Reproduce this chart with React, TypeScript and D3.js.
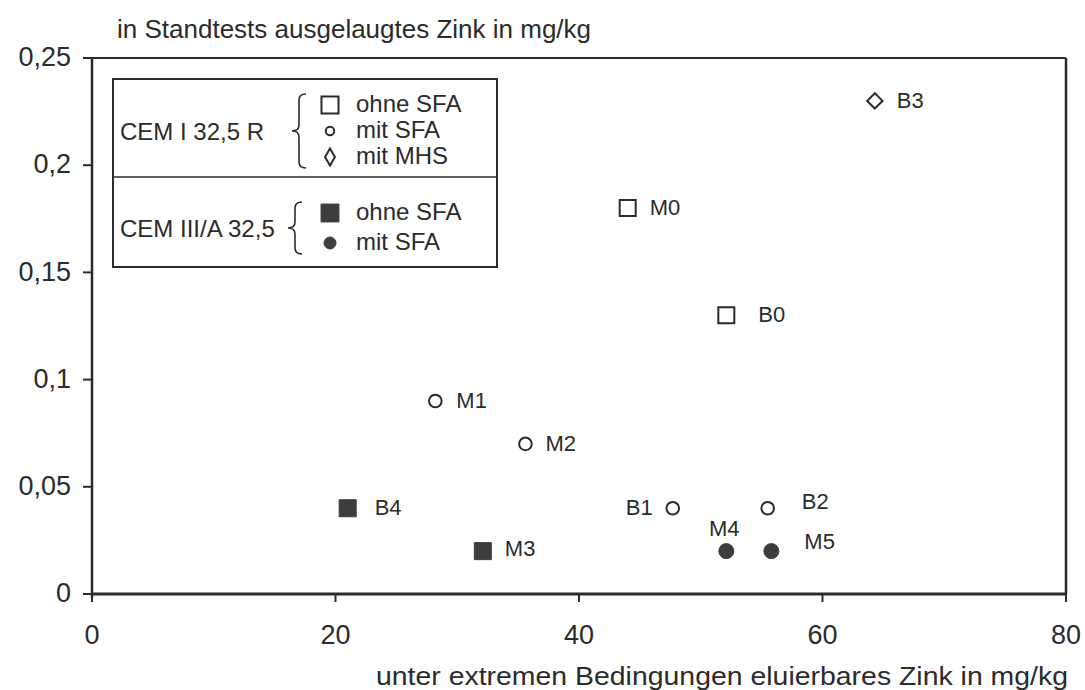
import React from "react";
import * as d3 from "d3";

// sample names, x = eluierbares Zink (mg/kg), y = ausgelaugtes Zink (mg/kg)
const sampleNames = ["B3", "M0", "B0", "M1", "M2", "B4", "M3", "B1", "B2", "M4", "M5"];
const xValues = [64.3, 44.0, 52.1, 28.2, 35.6, 21.0, 32.1, 47.7, 55.5, 52.1, 55.8];
const yValues = [0.23, 0.18, 0.13, 0.09, 0.07, 0.04, 0.02, 0.04, 0.04, 0.02, 0.02];
const sampleKinds = [
  "cem1-mhs",
  "cem1-ohne",
  "cem1-ohne",
  "cem1-mit",
  "cem1-mit",
  "cem3-ohne",
  "cem3-ohne",
  "cem1-mit",
  "cem1-mit",
  "cem3-mit",
  "cem3-mit"
];

const xTicks = [0, 20, 40, 60, 80];
const yTicks = [0, 0.05, 0.1, 0.15, 0.2, 0.25];

const yTitle = "in Standtests ausgelaugtes Zink in mg/kg";
const xTitle = "unter extremen Bedingungen eluierbares Zink in mg/kg";

const WIDTH = 1085;
const HEIGHT = 690;
const margin = { left: 92, right: 19, top: 58, bottom: 96 };
const INK = "#2b2b2b";
const FONT = "'Liberation Sans', Arial, sans-serif";

// where each point label sits relative to its marker
const labelPlace: Record<string, [number, number, string]> = {
  B3: [22, 0, "start"],
  M0: [22, 0, "start"],
  B0: [32, 0, "start"],
  M1: [21, 0, "start"],
  M2: [20, 0, "start"],
  B4: [27, 0, "start"],
  M3: [22, -2, "start"],
  B1: [-20, 0, "end"],
  B2: [34, -6, "start"],
  M4: [-2, -22, "middle"],
  M5: [33, -9, "start"]
};

const symbolFor = (kind: string, legend = false) => {
  const gen = d3.symbol();
  if (kind === "cem1-ohne") return gen.type(d3.symbolSquare).size(legend ? 290 : 256)();
  if (kind === "cem3-ohne") return gen.type(d3.symbolSquare).size(legend ? 320 : 290)();
  if (kind === "cem1-mhs")
    return legend ? gen.type(d3.symbolDiamond).size(85)() : gen.type(d3.symbolDiamond2).size(150)();
  if (kind === "cem3-mit") return gen.type(d3.symbolCircle).size(legend ? 113 : 177)();
  return gen.type(d3.symbolCircle).size(legend ? 55 : 125)();
};

const filled = (kind: string) => kind.startsWith("cem3");

const Marker = ({ kind, x, y, legend }: { kind: string; x: number; y: number; legend?: boolean }) => (
  <path
    d={symbolFor(kind, legend) || ""}
    transform={`translate(${x},${y})`}
    fill={filled(kind) ? "#3d3d3d" : "white"}
    stroke={filled(kind) ? "#3d3d3d" : INK}
    strokeWidth={filled(kind) ? 1 : 2}
  />
);

// curly brace opening to the right, tip pointing left
const bracePath = (x: number, y0: number, y1: number, w: number) => {
  const mid = (y0 + y1) / 2;
  return `M${x + w},${y0} Q${x + w / 2},${y0} ${x + w / 2},${y0 + 6}
    L${x + w / 2},${mid - 6} Q${x + w / 2},${mid} ${x},${mid}
    Q${x + w / 2},${mid} ${x + w / 2},${mid + 6}
    L${x + w / 2},${y1 - 6} Q${x + w / 2},${y1} ${x + w},${y1}`;
};

const legendGroups = [
  { title: "CEM I 32,5 R", kinds: ["cem1-ohne", "cem1-mit", "cem1-mhs"], names: ["ohne SFA", "mit SFA", "mit MHS"] },
  { title: "CEM III/A 32,5", kinds: ["cem3-ohne", "cem3-mit"], names: ["ohne SFA", "mit SFA"] }
];

const Legend = () => {
  const left = 113;
  const top = 79;
  const w = 384;
  const divider = 177;
  const bottom = 267;
  const rowsTop = [105, 213];
  const rowGap = [26, 30];
  return (
    <g fontFamily={FONT} fill={INK}>
      <rect x={left} y={top} width={w} height={bottom - top} fill="white" stroke={INK} strokeWidth={2} />
      <line x1={left} x2={left + w} y1={divider} y2={divider} stroke={INK} strokeWidth={1.5} />
      {legendGroups.map((g, gi) => {
        const n = g.kinds.length;
        const first = rowsTop[gi];
        const last = first + rowGap[gi] * (n - 1);
        return (
          <g key={g.title}>
            <text x={left + 7} y={(first + last) / 2 + 3} fontSize={24} dominantBaseline="middle">
              {g.title}
            </text>
            <path
              d={bracePath(gi === 0 ? 292 : 288, first - 11, last + 11, 14)}
              fill="none"
              stroke={INK}
              strokeWidth={1.6}
            />
            {g.kinds.map((k, i) => (
              <g key={k}>
                <Marker kind={k} x={330} y={first + rowGap[gi] * i} legend />
                <text x={356} y={first + rowGap[gi] * i + 1} fontSize={24} dominantBaseline="middle">
                  {g.names[i]}
                </text>
              </g>
            ))}
          </g>
        );
      })}
    </g>
  );
};

export default function App() {
  const x = d3.scaleLinear().domain([0, 80]).range([margin.left, WIDTH - margin.right]);
  const y = d3.scaleLinear().domain([0, 0.25]).range([HEIGHT - margin.bottom, margin.top]);
  const fmt = (v: number) => String(v).replace(".", ",");

  return (
    <svg width={WIDTH} height={HEIGHT} style={{ position: "absolute", left: 0, top: 0, background: "white" }}>
      <g fontFamily={FONT} fill={INK}>
        <text x={117} y={31} fontSize={26} dominantBaseline="middle">
          {yTitle}
        </text>
        <text
          x={376}
          y={678}
          fontSize={26}
          textLength={692}
          lengthAdjust="spacingAndGlyphs"
          dominantBaseline="middle"
        >
          {xTitle}
        </text>

        {yTicks.map(t => (
          <g key={t}>
            <line x1={x(0) - 9} x2={x(0)} y1={y(t)} y2={y(t)} stroke={INK} strokeWidth={2} />
            <text x={71} y={y(t) + 1} fontSize={27} textAnchor="end" dominantBaseline="middle">
              {fmt(t)}
            </text>
          </g>
        ))}
        {xTicks.map(t => (
          <g key={t}>
            <line x1={x(t)} x2={x(t)} y1={y(0)} y2={y(0) + 8} stroke={INK} strokeWidth={2} />
            <text x={x(t)} y={637} fontSize={27} textAnchor="middle" dominantBaseline="middle">
              {t}
            </text>
          </g>
        ))}

        {/* frame */}
        <line x1={x(0)} x2={x(80)} y1={y(0.25)} y2={y(0.25)} stroke={INK} strokeWidth={2} />
        <line x1={x(80)} x2={x(80)} y1={y(0.25)} y2={y(0)} stroke={INK} strokeWidth={2.5} />
        <line x1={x(0)} x2={x(0)} y1={y(0.25)} y2={y(0) + 4} stroke={INK} strokeWidth={2.5} />
        <line x1={x(0)} x2={x(80)} y1={y(0)} y2={y(0)} stroke={INK} strokeWidth={3} />
      </g>

      <Legend />

      <g fontFamily={FONT} fill={INK}>
        {sampleNames.map((name, i) => {
          const px = x(xValues[i]);
          const py = y(yValues[i]);
          const [dx, dy, anchor] = labelPlace[name];
          return (
            <g key={name}>
              <Marker kind={sampleKinds[i]} x={px} y={py} />
              <text x={px + dx} y={py + dy + 1} fontSize={22} textAnchor={anchor} dominantBaseline="middle">
                {name}
              </text>
            </g>
          );
        })}
      </g>
    </svg>
  );
}
